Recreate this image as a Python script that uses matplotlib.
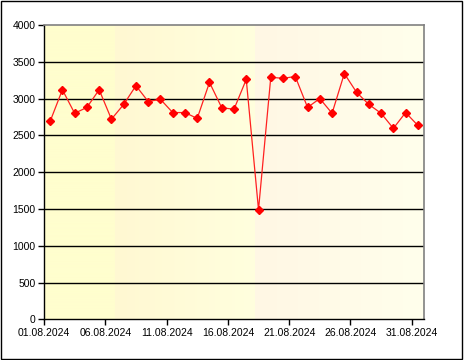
import numpy as np
import pandas as pd
import matplotlib
matplotlib.use("Agg")
import matplotlib.pyplot as plt
import matplotlib.dates as mdates
from matplotlib.patches import Rectangle

# daily values, August 2024
days = pd.date_range("2024-08-01", "2024-08-31", freq="D")
values = [2690, 3120, 2800, 2880, 3120, 2720, 2920, 3175, 2960, 2990,
          2810, 2810, 2730, 3220, 2875, 2855, 3260, 1490, 3290, 3275,
          3300, 2880, 3000, 2800, 3340, 3085, 2920, 2800, 2595, 2810,
          2635]
y_ticks = [0, 500, 1000, 1500, 2000, 2500, 3000, 3500, 4000]

plt.rcParams['font.family'] = ['Liberation Sans', 'DejaVu Sans']

W, H = 467, 360
fig = plt.figure(figsize=(W / 100, H / 100), dpi=100)
fig.patch.set_facecolor("white")
ax = fig.add_axes([44 / W, 1 - 319.3 / H, 380 / W, 294.3 / H])

# background: light yellow bands with soft gradients
n = 380
cols = np.zeros((1, n, 3))
for i in range(n):
    if i < 71:
        c = (255, 254, 206)
    elif i < 211:
        t = (i - 71) / 140
        c = (255, 248 + 7 * t, 210 + 12 * t)
    else:
        t = (i - 211) / 169
        c = (255, 247 + 8 * t, 228 + 8 * t)
    cols[0, i] = np.array(c) / 255
x0 = mdates.date2num(pd.Timestamp("2024-08-01"))
x1 = mdates.date2num(pd.Timestamp("2024-09-01"))
ax.imshow(cols, aspect="auto", extent=[x0, x1, 0, 4000], zorder=0)

for yv in y_ticks[1:-1]:
    ax.axhline(yv, color="black", lw=1, zorder=1)

# points sit in the middle of each day
ax.plot(days + pd.Timedelta(hours=12), values, color="#ff2020", lw=0.9,
        marker="D", markersize=4.2, markerfacecolor="red",
        markeredgecolor="red", zorder=3)

ax.set_xlim(x0, x1)
ax.set_ylim(0, 4000)
ax.set_yticks(y_ticks)
ax.set_xticks(days[::5])
ax.xaxis.set_major_formatter(mdates.DateFormatter("%d.%m.%Y"))
ax.tick_params(labelsize=7.5, length=4, width=1, color="black", pad=2)
for s in ["left", "bottom"]:
    ax.spines[s].set_color("black")
    ax.spines[s].set_linewidth(1)
for s in ["top", "right"]:
    ax.spines[s].set_color("#808080")
    ax.spines[s].set_linewidth(1.2)

fig.patches.append(Rectangle((0.5 / W, 1.5 / H), 461.5 / W, 357.5 / H,
                             transform=fig.transFigure, fill=False,
                             edgecolor="black", lw=1))

fig.savefig("out.png", dpi=100)
